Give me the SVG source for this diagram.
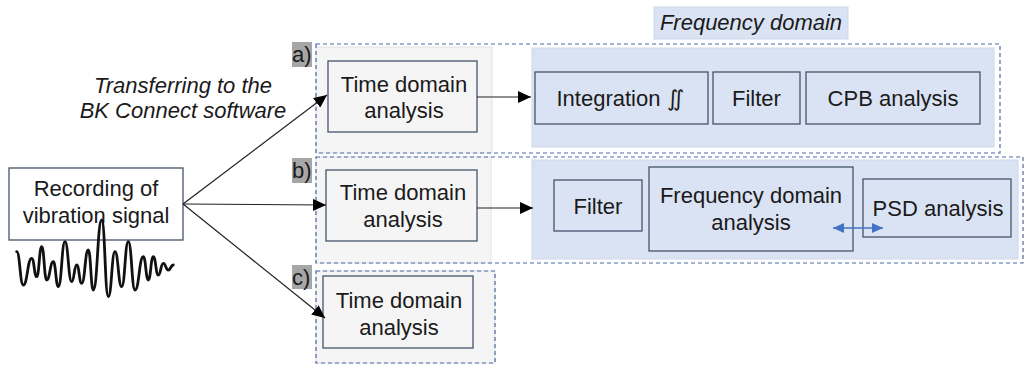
<svg xmlns="http://www.w3.org/2000/svg" width="1026" height="365" viewBox="0 0 1026 365">
<style>
  .t { font-family: "Liberation Sans", Arial, sans-serif; font-size: 22px; fill: #1a1a1a; text-anchor: middle; }
  .it { font-style: italic; }
  .lbl { font-family: "Liberation Sans", Arial, sans-serif; font-size: 22px; fill: #1a1a1a; }
  .gray { fill: #f5f5f5; stroke: #e2e2e2; stroke-width: 1; }
  .blue { fill: #dae3f3; stroke: #cdd6e8; stroke-width: 1; }
  .dash { fill: none; stroke: #4a6aa5; stroke-width: 1.2; stroke-dasharray: 4 3; }
  .box { stroke: #44546a; stroke-width: 1.3; }
  .gbox { fill: #f5f5f5; }
  .bbox { fill: #dae3f3; }
  .tag { fill: #a6a6a6; }
  .conn { stroke: #222; stroke-width: 1.2; fill: none; }
</style>
<defs>
  <marker id="ah" markerUnits="userSpaceOnUse" markerWidth="14" markerHeight="12" refX="13" refY="6" orient="auto">
    <path d="M0,0 L13,6 L0,12 Z" fill="#000"/>
  </marker>
  <marker id="bh" markerUnits="userSpaceOnUse" markerWidth="12" markerHeight="10" refX="11" refY="5" orient="auto-start-reverse">
    <path d="M0,0 L11,5 L0,10 Z" fill="#4472c4"/>
  </marker>
</defs>

<g id="panels">
  <rect class="gray" x="316" y="47" width="176" height="106"/>
  <rect class="gray" x="316" y="157" width="175" height="106"/>
  <rect class="gray" x="316" y="271" width="179" height="92"/>
  <rect class="blue" x="532" y="48" width="462" height="99"/>
  <rect class="blue" x="532" y="160" width="486" height="99"/>
  <rect class="dash" x="316" y="44" width="684" height="109"/>
  <rect class="dash" x="316" y="157" width="707" height="106"/>
  <rect class="dash" x="316" y="271" width="179" height="92"/>
</g>

<g id="freq-label">
  <rect x="654" y="7" width="194" height="32" fill="#dae3f3" stroke="#cdd6e8"/>
  <text class="t it" x="751" y="30">Frequency domain</text>
</g>

<g id="tag-a"><rect class="tag" x="292" y="42" width="20" height="25"/><text class="lbl" x="292" y="62">a)</text></g>
<g id="tag-b"><rect class="tag" x="292" y="158" width="20" height="25"/><text class="lbl" x="292" y="178">b)</text></g>
<g id="tag-c"><rect class="tag" x="292" y="265" width="20" height="24"/><text class="lbl" x="292" y="285">c)</text></g>

<g id="transfer-label">
  <text class="t it" x="183" y="93">Transferring to the</text>
  <text class="t it" x="183" y="118">BK Connect software</text>
</g>

<g id="recording">
  <rect class="box" fill="#ffffff" x="9" y="168" width="174" height="72"/>
  <text class="t" x="96" y="196">Recording of</text>
  <text class="t" x="96" y="223">vibration signal</text>
</g>

<g id="waveform">
  <path fill="none" stroke="#111" stroke-width="2.8" stroke-linecap="round" stroke-linejoin="round" d="M16.7,251.7 C20,251.7 20,285 23.3,285 C27.5,285 27.5,258.3 31.7,258.3 C34.2,258.3 34.2,276.7 36.7,276.7 C39.2,276.7 39.2,246.7 41.7,246.7 C44.2,246.7 44.2,280 46.7,280 C50,280 50,261.7 53.3,261.7 C55.8,261.7 55.8,286.7 58.3,286.7 C61.7,286.7 61.7,241.7 65,241.7 C68.3,241.7 68.3,281.7 71.7,281.7 C74.2,281.7 74.2,265 76.7,265 C79.2,265 79.2,283.3 81.7,283.3 C85,283.3 85,250 88.3,250 C90.8,250 90.8,290 93.3,290 C97.5,290 97.5,220 101.7,220 C105,220 105,296.7 108.3,296.7 C111.7,296.7 111.7,251.7 115,251.7 C118.3,251.7 118.3,286.7 121.7,286.7 C125,286.7 125,241.7 128.3,241.7 C131.7,241.7 131.7,290 135,290 C139.2,290 139.2,256.7 143.3,256.7 C145.8,256.7 145.8,280 148.3,280 C150.8,280 150.8,256.7 153.3,256.7 C155.8,256.7 155.8,275 158.3,275 C160.8,275 160.8,263.3 163.3,263.3 C165.8,263.3 165.8,270 168.3,270 C170.8,270 170.8,265 173.3,265"/>
</g>

<g id="time-a">
  <rect class="box gbox" x="328" y="61" width="149" height="71"/>
  <text class="t" x="404" y="92">Time domain</text>
  <text class="t" x="404" y="118">analysis</text>
</g>
<g id="time-b">
  <rect class="box gbox" x="326" y="170" width="151" height="71"/>
  <text class="t" x="403" y="200">Time domain</text>
  <text class="t" x="403" y="227">analysis</text>
</g>
<g id="time-c">
  <rect class="box gbox" x="323" y="276" width="150" height="72"/>
  <text class="t" x="399" y="308">Time domain</text>
  <text class="t" x="399" y="335">analysis</text>
</g>

<g id="integration">
  <rect class="box bbox" x="535" y="72" width="173" height="52"/>
  <text class="t" x="620" y="106">Integration ∬</text>
</g>
<g id="filter-a">
  <rect class="box bbox" x="713" y="72" width="87" height="52"/>
  <text class="t" x="756.5" y="106">Filter</text>
</g>
<g id="cpb">
  <rect class="box bbox" x="806" y="72" width="174" height="52"/>
  <text class="t" x="893" y="106">CPB analysis</text>
</g>

<g id="filter-b">
  <rect class="box bbox" x="554" y="180" width="88" height="51"/>
  <text class="t" x="598" y="214">Filter</text>
</g>
<g id="freq-analysis">
  <rect class="box bbox" x="649" y="167" width="204" height="84"/>
  <text class="t" x="751" y="203">Frequency domain</text>
  <text class="t" x="751" y="230">analysis</text>
</g>
<g id="psd">
  <rect class="box bbox" x="863" y="179" width="148" height="58"/>
  <text class="t" x="938" y="216">PSD analysis</text>
</g>

<g id="connectors">
  <line class="conn" x1="183" y1="204" x2="327" y2="95" marker-end="url(#ah)"/>
  <line class="conn" x1="183" y1="204" x2="326" y2="205" marker-end="url(#ah)"/>
  <line class="conn" x1="183" y1="204" x2="325" y2="318" marker-end="url(#ah)"/>
  <line class="conn" x1="477" y1="97" x2="531" y2="97" marker-end="url(#ah)"/>
  <line class="conn" x1="477" y1="208" x2="533" y2="208" marker-end="url(#ah)"/>
  <line x1="833" y1="228" x2="883" y2="228" stroke="#4472c4" stroke-width="1.3" marker-start="url(#bh)" marker-end="url(#bh)"/>
</g>
</svg>
